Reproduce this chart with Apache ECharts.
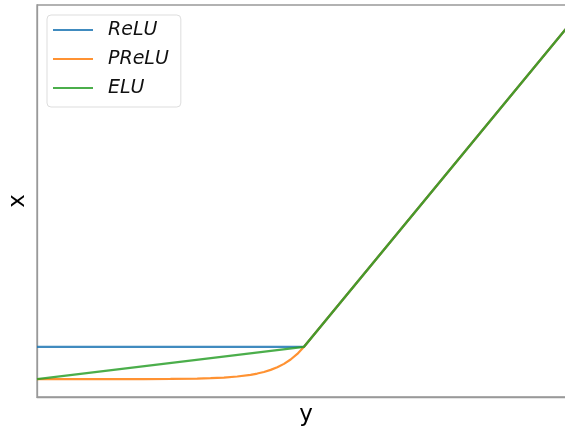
<!DOCTYPE html>
<html>
<head>
<meta charset="utf-8">
<style>
html, body { margin: 0; padding: 0; background: #fff; }
#chart { width: 565px; height: 429px; }
</style>
<script src="https://cdn.jsdelivr.net/npm/echarts@6/dist/echarts.min.js"></script>
</head>
<body>
<div id="chart"></div>
<script>
var chart = echarts.init(document.getElementById('chart'));

var seriesNames = ['ReLU', 'PReLU', 'ELU'];
var colors = ['#1f77b4', '#ff7f0e', '#2ca02c'];

// x positions and values
var reluX = [-10, 0, 10];
var reluY = [0, 0, 10];
var preluX = [-10, -8, -6, -5, -4, -3.5, -3, -2.5, -2, -1.75, -1.5, -1.25, -1, -0.75, -0.5, -0.25, 0, 10];
var preluY = [-1, -1, -0.998, -0.993, -0.982, -0.97, -0.95, -0.918, -0.865, -0.826, -0.777, -0.713, -0.632, -0.528, -0.393, -0.221, 0, 10];
var eluX = [-10, 0, 10];
var eluY = [-1, 0, 10];

function pairs(xs, ys) {
    var out = [];
    for (var i = 0; i < xs.length; i++) {
        out.push([xs[i], ys[i]]);
    }
    return out;
}

var lines = [pairs(reluX, reluY), pairs(preluX, preluY), pairs(eluX, eluY)];

var series = [];
for (var i = 0; i < seriesNames.length; i++) {
    series.push({
        name: seriesNames[i],
        type: 'line',
        data: lines[i],
        symbol: 'none',
        smooth: false,
        clip: true,
        lineStyle: { color: colors[i], width: 2.2, opacity: 0.85 },
        itemStyle: { color: colors[i], opacity: 0.85 }
    });
}

var option = {
    animation: false,
    grid: {
        left: 37, right: -6, top: 5, bottom: 32,
        outerBoundsMode: 'none',
        show: true, borderColor: '#999', borderWidth: 1.3, containLabel: false
    },
    legend: {
        left: 47, top: 15, orient: 'vertical',
        data: seriesNames,
        icon: 'rect',
        backgroundColor: '#fff',
        borderColor: '#ddd', borderWidth: 1, borderRadius: 4,
        padding: [5, 12, 9, 6],
        itemWidth: 40, itemHeight: 2, itemGap: 9,
        textStyle: {
            fontFamily: 'DejaVu Sans', fontStyle: 'italic', fontSize: 19,
            color: '#111', lineHeight: 20, padding: [0, 0, 0, 10]
        }
    },
    xAxis: {
        type: 'value', min: -10, max: 10,
        name: 'y', nameLocation: 'middle', nameGap: 7,
        nameTextStyle: { fontFamily: 'DejaVu Sans', fontSize: 23, color: '#000', padding: [0, 0, 0, 4] },
        axisLine: { show: true, onZero: false, lineStyle: { color: '#999', width: 1.3 } },
        axisTick: { show: false }, axisLabel: { show: false }, splitLine: { show: false }
    },
    yAxis: {
        type: 'value', min: -1.55, max: 10.55,
        name: 'x', nameLocation: 'middle', nameGap: 7, nameRotate: 90,
        nameTextStyle: { fontFamily: 'DejaVu Sans', fontSize: 23, color: '#000' },
        axisLine: { show: true, onZero: false, lineStyle: { color: '#999', width: 1.3 } },
        axisTick: { show: false }, axisLabel: { show: false }, splitLine: { show: false }
    },
    series: series
};

chart.setOption(option);
window.onresize = chart.resize;
</script>
</body>
</html>
